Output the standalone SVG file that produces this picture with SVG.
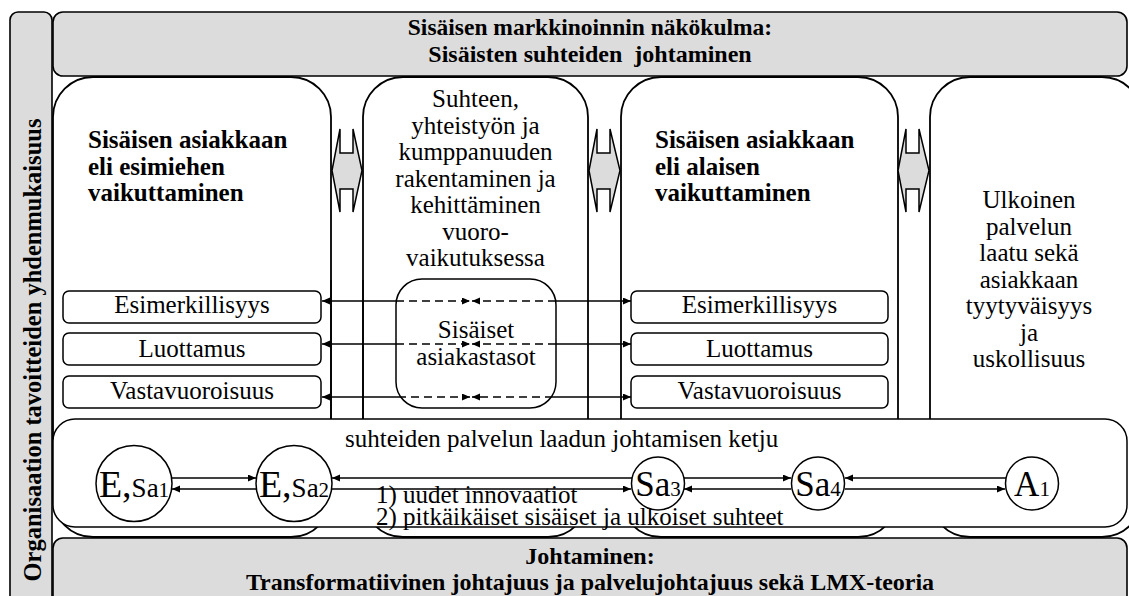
<svg xmlns="http://www.w3.org/2000/svg" width="1129" height="596" viewBox="0 0 1129 596">
  <defs>
    <marker id="ah" markerUnits="userSpaceOnUse" markerWidth="9" markerHeight="8" refX="8" refY="3.5" orient="auto-start-reverse">
      <path d="M0,0 L8,3.5 L0,7 z" fill="#000"/>
    </marker>
    <style>
      .bar { fill: #dcdcdc; stroke: #000; stroke-width: 1.6; }
      .col { fill: #fff; stroke: #000; stroke-width: 1.8; }
      .box { fill: #fff; stroke: #000; stroke-width: 1.5; }
      .dbl { fill: #dcdcdc; stroke: #000; stroke-width: 1.5; stroke-linejoin: miter; }
      .t { font-family: "Liberation Serif", "Times New Roman", serif; font-size: 25px; fill: #000; }
      .b { font-weight: bold; }
      .c { text-anchor: middle; }
      .hd { font-size: 24px; }
      .ln { stroke: #000; stroke-width: 1.5; fill: none; }
      .dash { stroke-dasharray: 8 5; }
      .big { font-size: 38px; }
      .mid { font-size: 27px; }
      .sub { font-size: 21px; }
      .big2 { font-size: 35px; }
    </style>
  </defs>

  <!-- left side bar -->
  <g id="side-bar">
    <rect class="bar" x="10" y="12" width="42" height="600" rx="8"/>
    <text class="t b c" transform="translate(41,350) rotate(-90)" style="font-size:24.5px">Organisaation tavoitteiden yhdenmukaisuus</text>
  </g>

  <!-- top bar -->
  <g id="top-bar">
    <rect class="bar" x="53" y="12" width="1074" height="64" rx="10"/>
    <text class="t b c" x="590" y="35" style="font-size:23.5px">Sisäisen markkinoinnin näkökulma:</text>
    <text class="t b c hd" x="590" y="62" xml:space="preserve">Sisäisten suhteiden  johtaminen</text>
  </g>

  <!-- columns -->
  <g id="col-esimies">
    <rect class="col" x="53" y="77" width="278" height="460" rx="40"/>
    <text class="t b" x="88" y="148">Sisäisen asiakkaan</text>
    <text class="t b" x="88" y="174.5">eli esimiehen</text>
    <text class="t b" x="88" y="201">vaikuttaminen</text>
  </g>
  <g id="col-suhde">
    <rect class="col" x="363" y="77" width="225" height="460" rx="40"/>
    <text class="t c" x="475.5" y="107">Suhteen,</text>
    <text class="t c" x="475.5" y="133.5">yhteistyön ja</text>
    <text class="t c" x="475.5" y="160">kumppanuuden</text>
    <text class="t c" x="475.5" y="186.5">rakentaminen ja</text>
    <text class="t c" x="475.5" y="213">kehittäminen</text>
    <text class="t c" x="475.5" y="239.5">vuoro-</text>
    <text class="t c" x="475.5" y="266">vaikutuksessa</text>
  </g>
  <g id="col-alainen">
    <rect class="col" x="621" y="77" width="277" height="460" rx="40"/>
    <text class="t b" x="655" y="148">Sisäisen asiakkaan</text>
    <text class="t b" x="655" y="174.5">eli alaisen</text>
    <text class="t b" x="655" y="201">vaikuttaminen</text>
  </g>
  <g id="col-ulkoinen">
    <rect class="col" x="930" y="77" width="212" height="460" rx="40"/>
    <text class="t c" x="1029" y="208">Ulkoinen</text>
    <text class="t c" x="1029" y="234.5">palvelun</text>
    <text class="t c" x="1029" y="261">laatu sekä</text>
    <text class="t c" x="1029" y="287.5">asiakkaan</text>
    <text class="t c" x="1029" y="314">tyytyväisyys</text>
    <text class="t c" x="1029" y="340.5">ja</text>
    <text class="t c" x="1029" y="367">uskollisuus</text>
  </g>

  <!-- block double arrows between columns -->
  <g id="dbl-arrows">
    <path class="dbl" d="M332,170.5 L340,129 L340,153 L353,153 L353,129 L362,170.5 L353,212 L353,189 L340,189 L340,212 Z"/>
    <path class="dbl" d="M589,170.5 L597,129 L597,153 L610,153 L610,129 L620,170.5 L610,212 L610,189 L597,189 L597,212 Z"/>
    <path class="dbl" d="M898,170.5 L906,129 L906,153 L919,153 L919,129 L929,170.5 L919,212 L919,189 L906,189 L906,212 Z"/>
  </g>

  <!-- value boxes -->
  <g id="left-esimerkillisyys">
    <rect class="box" x="63" y="291" width="258" height="32" rx="6"/>
    <text class="t c" x="192" y="313">Esimerkillisyys</text>
  </g>
  <g id="left-luottamus">
    <rect class="box" x="63" y="333" width="258" height="32" rx="6"/>
    <text class="t c" x="192" y="357">Luottamus</text>
  </g>
  <g id="left-vastavuoroisuus">
    <rect class="box" x="63" y="376" width="258" height="32" rx="6"/>
    <text class="t c" x="192" y="399">Vastavuoroisuus</text>
  </g>
  <g id="right-esimerkillisyys">
    <rect class="box" x="631" y="291" width="257" height="32" rx="6"/>
    <text class="t c" x="759.5" y="313">Esimerkillisyys</text>
  </g>
  <g id="right-luottamus">
    <rect class="box" x="631" y="333" width="257" height="32" rx="6"/>
    <text class="t c" x="759.5" y="357">Luottamus</text>
  </g>
  <g id="right-vastavuoroisuus">
    <rect class="box" x="631" y="376" width="257" height="32" rx="6"/>
    <text class="t c" x="759.5" y="399">Vastavuoroisuus</text>
  </g>

  <g id="asiakastasot">
    <rect class="box" x="396" y="279" width="160" height="129" rx="26"/>
    <text class="t c" x="476" y="338">Sisäiset</text>
    <text class="t c" x="476" y="365">asiakastasot</text>
  </g>

  <!-- connectors -->
  <g id="connectors">
    <!-- value rows -->
    <line class="ln" x1="396" y1="301" x2="322" y2="301" marker-end="url(#ah)"/>
    <line class="ln dash" x1="396" y1="301" x2="470" y2="301" marker-end="url(#ah)"/>
    <line class="ln dash" x1="556" y1="301" x2="472" y2="301" marker-end="url(#ah)"/>
    <line class="ln" x1="556" y1="301" x2="631" y2="301" marker-end="url(#ah)"/>

    <line class="ln" x1="396" y1="344" x2="322" y2="344" marker-end="url(#ah)"/>
    <line class="ln dash" x1="396" y1="344" x2="470" y2="344" marker-end="url(#ah)"/>
    <line class="ln dash" x1="556" y1="344" x2="472" y2="344" marker-end="url(#ah)"/>
    <line class="ln" x1="556" y1="344" x2="631" y2="344" marker-end="url(#ah)"/>

    <line class="ln" x1="398" y1="397" x2="322" y2="397" marker-end="url(#ah)"/>
    <line class="ln dash" x1="398" y1="397" x2="470" y2="397" marker-end="url(#ah)"/>
    <line class="ln dash" x1="553" y1="397" x2="472" y2="397" marker-end="url(#ah)"/>
    <line class="ln" x1="553" y1="397" x2="631" y2="397" marker-end="url(#ah)"/>

    <!-- centre column divider lines -->
    <line class="ln" x1="331" y1="280" x2="331" y2="419"/>
    <line class="ln" x1="363" y1="280" x2="363" y2="419"/>
  </g>

  <!-- quality chain -->
  <g id="chain">
    <rect class="box" x="53" y="419" width="1074" height="108" rx="22"/>
    <text class="t" x="345" y="447">suhteiden palvelun laadun johtamisen ketju</text>
    <text class="t" x="376" y="503">1) uudet innovaatiot</text>
    <text class="t" x="376" y="525">2) pitkäikäiset sisäiset ja ulkoiset suhteet</text>
  </g>

  <g id="chain-links">
    <line class="ln" x1="172" y1="478" x2="256" y2="478" marker-end="url(#ah)"/>
    <line class="ln" x1="256" y1="489" x2="172" y2="489" marker-end="url(#ah)"/>
    <line class="ln" x1="632" y1="478" x2="332" y2="478" marker-end="url(#ah)"/>
    <line class="ln" x1="332" y1="489" x2="631" y2="489" marker-end="url(#ah)"/>
    <line class="ln" x1="684" y1="478" x2="791" y2="478" marker-end="url(#ah)"/>
    <line class="ln" x1="791" y1="489" x2="684" y2="489" marker-end="url(#ah)"/>
    <line class="ln" x1="1006" y1="478" x2="845" y2="478" marker-end="url(#ah)"/>
    <line class="ln" x1="845" y1="489" x2="1005" y2="489" marker-end="url(#ah)"/>
  </g>

  <g id="node-esa1">
    <circle class="box" cx="134" cy="483.5" r="38"/>
    <text class="t c" x="134" y="497"><tspan class="big">E,</tspan><tspan class="mid">Sa</tspan><tspan class="sub">1</tspan></text>
  </g>
  <g id="node-esa2">
    <circle class="box" cx="294" cy="483.5" r="38"/>
    <text class="t c" x="294" y="497"><tspan class="big">E,</tspan><tspan class="mid">Sa</tspan><tspan class="sub">2</tspan></text>
  </g>
  <g id="node-sa3">
    <circle class="box" cx="658" cy="483.5" r="26.5"/>
    <text class="t c" x="658" y="496"><tspan class="big2">Sa</tspan><tspan class="sub">3</tspan></text>
  </g>
  <g id="node-sa4">
    <circle class="box" cx="818" cy="483.5" r="26.5"/>
    <text class="t c" x="818" y="496"><tspan class="big2">Sa</tspan><tspan class="sub">4</tspan></text>
  </g>
  <g id="node-a1">
    <circle class="box" cx="1032" cy="483.5" r="26.5"/>
    <text class="t c" x="1032" y="496"><tspan class="big2">A</tspan><tspan class="sub">1</tspan></text>
  </g>

  <!-- bottom bar -->
  <g id="bottom-bar">
    <rect class="bar" x="53" y="538" width="1074" height="80" rx="10"/>
    <text class="t b c hd" x="590" y="564">Johtaminen:</text>
    <text class="t b c hd" x="590" y="590">Transformatiivinen johtajuus ja palvelujohtajuus sekä LMX-teoria</text>
  </g>
</svg>
